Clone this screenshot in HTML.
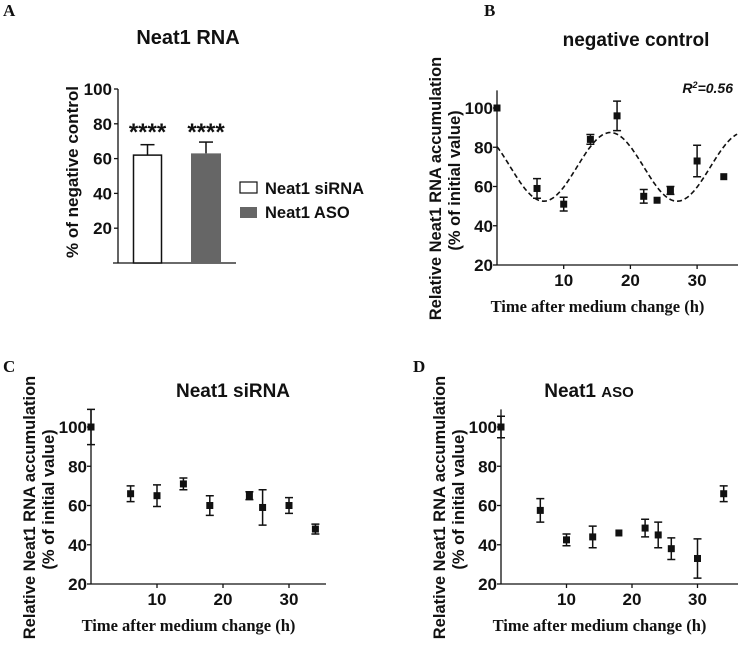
<!DOCTYPE html>
<html><head><meta charset="utf-8"><style>
html,body{margin:0;padding:0;background:#fff}
svg{display:block}
.s{font-family:"Liberation Sans",sans-serif;font-weight:bold;fill:#111}
.r{font-family:"Liberation Serif",serif;font-weight:bold;fill:#111}
</style></head><body>
<svg id="fig" width="738" height="657" viewBox="0 0 738 657" xmlns="http://www.w3.org/2000/svg">
<g>
<text class="r" x="3" y="16" font-size="17">A</text>
<text class="s" x="188" y="44" font-size="20" text-anchor="middle">Neat1 RNA</text>
<text class="s" font-size="17" text-anchor="middle" transform="translate(78,172) rotate(-90)">% of negative control</text>
<g id="pa"></g>
<rect x="240" y="182" width="17" height="11" fill="#fff" stroke="#111" stroke-width="1.2"/>
<text class="s" x="265" y="194" font-size="16.5">Neat1 siRNA</text>
<rect x="240" y="207" width="17" height="11" fill="#666"/>
<text class="s" x="265" y="218" font-size="16.5">Neat1 ASO</text>
</g>
<g>
<text class="r" x="484" y="16" font-size="17">B</text>
<text class="s" x="636" y="46" font-size="19" text-anchor="middle">negative control</text>
<text class="s" x="733" y="93" font-size="14" font-style="italic" text-anchor="end">R<tspan font-size="9" dy="-5">2</tspan><tspan dy="5">=0.56</tspan></text>
<g id="pb"></g>
</g>
<g>
<text class="r" x="3" y="372" font-size="17">C</text>
<text class="s" x="233" y="397" font-size="19" text-anchor="middle">Neat1 siRNA</text>
<g id="pc"></g>
</g>
<g>
<text class="r" x="413" y="372" font-size="17">D</text>
<text class="s" x="589" y="397" font-size="19" text-anchor="middle">Neat1 <tspan font-size="15">ASO</tspan></text>
<g id="pd"></g>
</g>
</svg>
<script>
// Panel A data
const barCategories = ["Neat1 siRNA", "Neat1 ASO"];
const barValues = [62, 63];
const barErrors = [6, 6.5];
const barTicks = [20, 40, 60, 80, 100];
// Panel B data
const timeB = [0, 6, 10, 14, 18, 22, 24, 26, 30, 34];
const valB = [100, 59, 51, 84, 96, 55, 53, 58, 73, 65];
const errB = [0, 5, 3.5, 2.5, 7.5, 3.5, 0, 2, 8, 0];
const fitMean = 70, fitAmp = 17.5, fitPeak = 17, fitPeriod = 20;
// Panel C data
const timeC = [0, 6, 10, 14, 18, 24, 26, 30, 34];
const valC = [100, 66, 65, 71, 60, 65, 59, 60, 48];
const errC = [9, 4, 5.5, 3, 5, 2, 9, 4, 2.5];
// Panel D data
const timeD = [0, 6, 10, 14, 18, 22, 24, 26, 30, 34];
const valD = [100, 57.5, 42.5, 44, 46, 48.5, 45, 38, 33, 66];
const errD = [5.5, 6, 3, 5.5, 0, 4.5, 6.5, 5.5, 10, 4];
const yTicks = [20, 40, 60, 80, 100];
const xTicks = [10, 20, 30];

const NS = "http://www.w3.org/2000/svg";
function mk(parent, tag, attrs, text) {
  const e = document.createElementNS(NS, tag);
  for (const k in attrs) e.setAttribute(k, attrs[k]);
  if (text !== undefined) e.textContent = text;
  parent.appendChild(e);
  return e;
}

// Panel A
(function () {
  const g = document.getElementById("pa");
  const y = v => 263 - v * 1.74;
  const ax = mk(g, "line", {x1:118, y1:y(100), x2:118, y2:263, stroke:"#111", "stroke-width":1.3});
  
  
  const bl = mk(g, "line", {x1:113, y1:263, x2:236, y2:263, stroke:"#111", "stroke-width":1.3});
  
  
  barTicks.forEach(t => {
    mk(g, "line", {x1:114, y1:y(t), x2:118, y2:y(t), stroke:"#111", "stroke-width":1.3});
    const lb = mk(g, "text", {x:112, y:y(t)+6, class:"s", "font-size":17, "text-anchor":"end"}, t);
    
    
  });
  const xs = [147.5, 206];
  barCategories.forEach((c, i) => {
    const fill = i === 0 ? "#fff" : "#666";
    const top = y(barValues[i]);
    const eb = mk(g, "line", {x1:xs[i], y1:y(barValues[i]+barErrors[i]), x2:xs[i], y2:top, stroke:"#111", "stroke-width":1.5});
    
    
    mk(g, "line", {x1:xs[i]-7, y1:y(barValues[i]+barErrors[i]), x2:xs[i]+7, y2:y(barValues[i]+barErrors[i]), stroke:"#111", "stroke-width":1.5});
    const r = mk(g, "rect", i === 0 ? {x:xs[i]-14, y:top, width:28, height:263-top, fill:fill, stroke:"#111", "stroke-width":1.5}
                                   : {x:xs[i]-15, y:top, width:30, height:263-top, fill:fill});
    
    
    const st = mk(g, "text", {x:xs[i], y:140, class:"s", "font-size":24, "text-anchor":"middle"}, "****");
    
    
  });
})();

function scatter(id, x0, pxh, yTop, yBot, axisRight, xs, ys, es, suffix, fit) {
  const g = document.getElementById(id);
  const X = t => x0 + t * pxh;
  const Y = v => yBot - (v - 20) * (yBot - yTop) / 80;
  const ya = mk(g, "line", {x1:x0, y1:Y(109), x2:x0, y2:yBot, stroke:"#111", "stroke-width":1.3});
  
  
  const xa = mk(g, "line", {x1:x0, y1:yBot, x2:axisRight, y2:yBot, stroke:"#111", "stroke-width":1.3});
  
  
  yTicks.forEach(t => {
    mk(g, "line", {x1:x0-4, y1:Y(t), x2:x0, y2:Y(t), stroke:"#111", "stroke-width":1.3});
    const lb = mk(g, "text", {x:x0-4, y:Y(t)+6, class:"s", "font-size":17, "text-anchor":"end"}, t);
    
    
  });
  xTicks.forEach(t => {
    mk(g, "line", {x1:X(t), y1:yBot, x2:X(t), y2:yBot+4, stroke:"#111", "stroke-width":1.3});
    const lb = mk(g, "text", {x:X(t), y:yBot+21, class:"s", "font-size":17, "text-anchor":"middle"}, t);
    
    
  });
  const xt = mk(g, "text", {x:(x0+axisRight)/2-20, y:yBot+47, class:"r", "font-size":16.5, "text-anchor":"middle"}, "Time after medium change (h)");
  
  
  const cy = (yTop + yBot) / 2 + 2;
  const yt1 = mk(g, "text", {class:"s", "font-size":16.5, "text-anchor":"middle", transform:`translate(${x0-56},${cy}) rotate(-90)`}, "Relative Neat1 RNA accumulation");
  
  
  const yt2 = mk(g, "text", {class:"s", "font-size":16.5, "text-anchor":"middle", transform:`translate(${x0-37},${cy-8}) rotate(-90)`}, "(% of initial value)");
  
  
  if (fit) {
    let d = "";
    for (let t = 0; t <= (axisRight - x0) / pxh; t += 0.25) {
      const v = fit(t);
      d += (d ? "L" : "M") + X(t).toFixed(1) + "," + Y(v).toFixed(1);
    }
    const p = mk(g, "path", {d:d, fill:"none", stroke:"#111", "stroke-width":1.6, "stroke-dasharray":"5,3"});
    
    
  }
  xs.forEach((t, i) => {
    if (es[i] > 0) {
      const e = mk(g, "path", {d:`M${X(t)},${Y(ys[i]+es[i])}V${Y(ys[i]-es[i])}M${X(t)-4},${Y(ys[i]+es[i])}h8M${X(t)-4},${Y(ys[i]-es[i])}h8`, stroke:"#111", "stroke-width":1.5, fill:"none"});
      
      
    }
    const m = mk(g, "rect", {x:X(t)-3.5, y:Y(ys[i])-3.5, width:7, height:7, fill:"#111"});
    
    
  });
}
scatter("pb", 497, 6.67, 108, 265, 738, timeB, valB, errB, "b",
  t => fitMean + fitAmp * Math.cos(2 * Math.PI * (t - fitPeak) / fitPeriod));
scatter("pc", 91, 6.6, 427, 584, 326, timeC, valC, errC, "c");
scatter("pd", 501, 6.55, 427, 584, 738, timeD, valD, errD, "d");
</script>
</body></html>
